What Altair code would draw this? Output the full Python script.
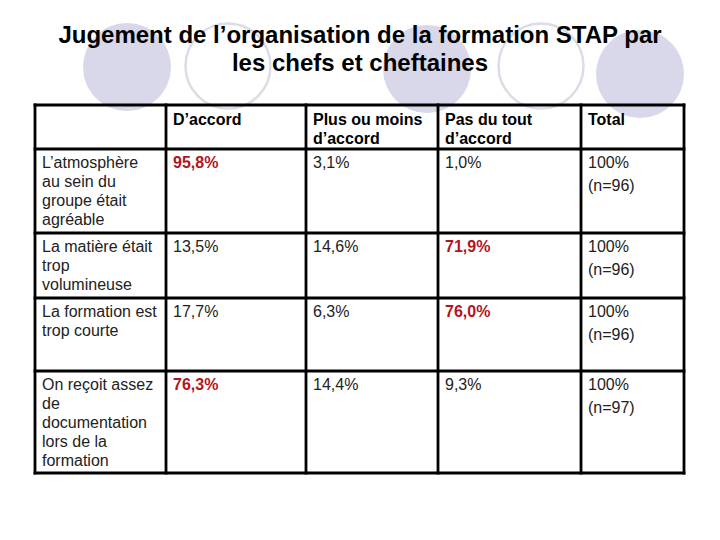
import altair as alt
import pandas as pd

# ---------------- data ----------------
title_lines = ["Jugement de l’organisation de la formation STAP par",
               "les chefs et cheftaines"]
col_headers = ["D’accord", "Plus ou moins\nd’accord", "Pas du tout\nd’accord", "Total"]
row_labels = [
    "L’atmosphère\nau sein du\ngroupe était\nagréable",
    "La matière était\ntrop\nvolumineuse",
    "La formation est\ntrop courte",
    "On reçoit assez\nde\ndocumentation\nlors de la\nformation",
]
pct_accord = [95.8, 13.5, 17.7, 76.3]
pct_plus_ou_moins = [3.1, 14.6, 6.3, 14.4]
pct_pas_du_tout = [1.0, 71.9, 76.0, 9.3]
total_pct = [100, 100, 100, 100]
total_n = [96, 96, 96, 97]

# ---------------- layout (page pixel coordinates) ----------------
W, H = 700, 500
col_edges = [35, 166, 306, 438, 581, 684]
row_edges = [105, 149, 233, 298, 371, 473]
pad_x, first_base = 7, 19
header_base = 125
title_base = [43, 71]
filled_circles = [(127, 67), (427, 69), (640, 74)]
ring_circles = [(228, 66), (541, 66)]

FONT = "Liberation Sans"
RED = "#B3141C"
INK = "#222222"

xs = alt.Scale(domain=[8, 8 + W])
ys = alt.Scale(domain=[8, 8 + H], reverse=True)
X = lambda f: alt.X(f, type="quantitative", scale=xs, axis=None)
Y = lambda f: alt.Y(f, type="quantitative", scale=ys, axis=None)


def fmt(v):
    return f"{v:.1f}".replace(".", ",") + "%"


# circles
circ_f = pd.DataFrame(filled_circles, columns=["x", "y"])
circ_r = pd.DataFrame(ring_circles, columns=["x", "y"])
filled = alt.Chart(circ_f).mark_point(shape="circle", filled=True, size=88 * 88,
                                      color="#D8D8EA", opacity=1).encode(x=X("x"), y=Y("y"))
rings = alt.Chart(circ_r).mark_point(shape="circle", filled=False, size=85 * 85,
                                     color="#DCDCE8", strokeWidth=2.5, opacity=1).encode(x=X("x"), y=Y("y"))

# title
title_df = pd.DataFrame({"t": title_lines, "y": title_base, "x": [360, 360]})
title = alt.Chart(title_df).mark_text(font=FONT, fontSize=24, fontWeight="bold", color="#000000",
                                      align="center", baseline="alphabetic").encode(
    x=X("x"), y=Y("y"), text="t:N")

# grid
h_df = pd.DataFrame({"y": row_edges, "x": col_edges[0], "x2": col_edges[-1]})
v_df = pd.DataFrame({"x": col_edges, "y": row_edges[0], "y2": row_edges[-1]})
hrules = alt.Chart(h_df).mark_rule(color="#000000", strokeWidth=2.8, strokeCap="square").encode(
    x=X("x"), x2="x2", y=Y("y"))
vrules = alt.Chart(v_df).mark_rule(color="#000000", strokeWidth=2.8, strokeCap="square").encode(
    x=X("x"), y=Y("y"), y2="y2")

# header texts
hdr = pd.DataFrame({"t": col_headers,
                    "x": [e + pad_x for e in col_edges[1:5]],
                    "y": header_base})
headers = alt.Chart(hdr).mark_text(font=FONT, fontSize=16, fontWeight="bold", color="#000000",
                                   align="left", baseline="alphabetic", lineBreak="\n",
                                   lineHeight=19).encode(x=X("x"), y=Y("y"), text="t:N")

# body cells
plain, red, lab, tot = [], [], [], []
for i in range(len(row_labels)):
    base = row_edges[i + 1] + first_base
    lab.append({"t": row_labels[i], "x": col_edges[0] + pad_x, "y": base})
    vals = [pct_accord[i], pct_plus_ou_moins[i], pct_pas_du_tout[i]]
    m = max(vals)
    for j, v in enumerate(vals):
        rec = {"t": fmt(v), "x": col_edges[j + 1] + pad_x, "y": base}
        (red if v == m else plain).append(rec)
    tot.append({"t": f"{total_pct[i]}%\n(n={total_n[i]})", "x": col_edges[4] + pad_x, "y": base})

body_kw = dict(font=FONT, fontSize=16, align="left", baseline="alphabetic", lineBreak="\n")
labels = alt.Chart(pd.DataFrame(lab)).mark_text(color=INK, lineHeight=19, **body_kw).encode(
    x=X("x"), y=Y("y"), text="t:N")
plain_t = alt.Chart(pd.DataFrame(plain)).mark_text(color=INK, **body_kw).encode(
    x=X("x"), y=Y("y"), text="t:N")
red_t = alt.Chart(pd.DataFrame(red)).mark_text(color=RED, fontWeight="bold", **body_kw).encode(
    x=X("x"), y=Y("y"), text="t:N")
tot_t = alt.Chart(pd.DataFrame(tot)).mark_text(color=INK, lineHeight=23, **body_kw).encode(
    x=X("x"), y=Y("y"), text="t:N")

chart = alt.layer(filled, rings, title, hrules, vrules, headers, labels, plain_t, red_t, tot_t).properties(
    width=W, height=H, padding=0, autosize=alt.AutoSizeParams(type="none"),
    background="#ffffff",
).configure_view(stroke=None)

chart.save("out.html", embed_options={"renderer": "svg", "actions": False})
